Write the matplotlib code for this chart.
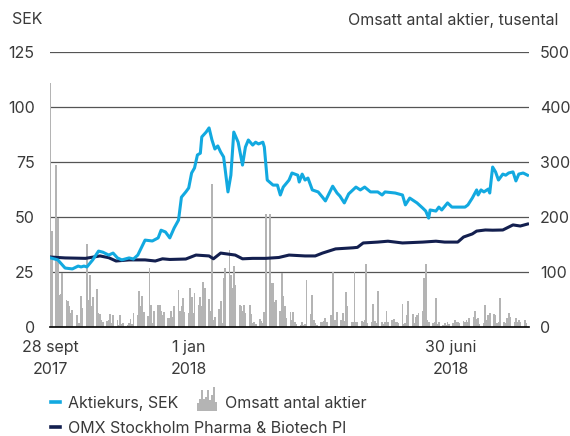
import matplotlib
matplotlib.use("Agg")
import matplotlib.pyplot as plt
import numpy as np
import pandas as pd
from matplotlib.lines import Line2D
from matplotlib.patches import Rectangle
from matplotlib.legend_handler import HandlerBase

plt.rcParams['font.family'] = ['Inter', 'DejaVu Sans']

# ---- data ----
start = pd.Timestamp("2017-09-28")

# share price, SEK  (days after 28 sept 2017)
price_day = [0, 5, 10, 15, 19, 21, 23, 25, 29, 33, 36, 40, 43, 46, 49, 54, 57, 60,
             65, 70, 74, 76, 79, 82, 85, 88, 90, 93, 95, 97, 99, 101, 103, 104, 107,
             109, 111, 113, 115, 117, 119, 122, 124, 126, 129, 132, 134, 136, 139,
             141, 143, 146, 147, 149, 153, 156, 158, 160, 164, 166, 170, 171, 173,
             175, 177, 180, 184, 187, 189, 194, 197, 199, 202, 205, 210, 213, 216,
             220, 225, 228, 230, 237, 242, 244, 247, 252, 256, 258, 260, 261, 265,
             267, 269, 273, 276, 280, 285, 287, 290, 293, 294, 296, 298, 301, 302,
             304, 306, 308, 311, 313, 315, 318, 320, 322, 325, 328]
price_sek = [31.4, 30.5, 26.8, 26.4, 27.7, 27.3, 27.7, 27.3, 30.5, 34.5, 34.0, 32.7,
             33.6, 31.4, 30.5, 31.4, 30.9, 32.7, 39.5, 39.1, 40.5, 44.0, 43.2, 40.5,
             45.0, 48.6, 59.0, 61.4, 63.2, 70.0, 72.3, 78.2, 79.0, 86.4, 88.6, 90.5,
             85.0, 80.9, 82.3, 79.5, 77.3, 61.4, 69.0, 88.6, 84.0, 73.6, 81.8, 85.0,
             82.7, 84.0, 83.2, 84.0, 81.8, 66.8, 64.5, 64.5, 60.0, 63.6, 66.8, 70.0,
             69.0, 65.9, 69.5, 66.8, 67.7, 62.3, 61.4, 59.0, 57.3, 64.0, 60.9, 59.5,
             56.4, 60.5, 63.6, 62.3, 63.6, 61.4, 61.4, 60.0, 61.4, 60.9, 60.0, 55.5,
             58.6, 56.4, 54.0, 52.7, 49.5, 53.2, 52.7, 54.5, 53.2, 56.4, 54.5, 54.5,
             54.5, 55.5, 58.6, 62.3, 60.0, 62.3, 61.4, 62.7, 60.9, 72.7, 70.5, 66.8,
             69.5, 69.0, 70.0, 70.5, 66.4, 69.5, 70.0, 69.0]

# OMX Stockholm Pharma & Biotech PI (rebased, SEK scale)
index_day = [0, 10, 24, 34, 40, 45, 54, 65, 72, 77, 82, 93, 100, 109, 112, 117, 127,
             132, 139, 148, 157, 164, 175, 182, 187, 196, 208, 211, 215, 225, 232, 242,
             256, 265, 271, 280, 284, 290, 293, 299, 304, 311, 318, 323, 328]
index_val = [31.8, 31.4, 31.2, 32.3, 31.5, 30.0, 30.5, 30.5, 30.0, 31.0, 30.7, 30.9,
             32.7, 32.3, 31.0, 33.6, 32.7, 31.0, 31.2, 31.2, 31.6, 32.7, 32.3, 32.3,
             33.6, 35.5, 36.0, 36.2, 38.2, 38.6, 39.0, 38.2, 38.6, 39.0, 38.6, 38.6,
             40.9, 42.3, 43.6, 44.1, 44.0, 44.1, 46.4, 45.9, 46.8]

# traded shares per day, thousands
volume = [444, 175, 295, 198, 58, 60, 98, 49, 47, 38, 25, 31, 22, 7, 7, 56, 35, 151,
          49, 95, 38, 55, 69, 25, 24, 12, 10, 11, 13, 24, 7, 22, 13, 3, 22, 5, 7, 4, 7,
          15, 5, 25, 22, 65, 38, 56, 27, 20, 107, 40, 7, 29, 40, 40, 30, 22, 27, 16, 16,
          29, 18, 38, 67, 29, 38, 53, 27, 25, 71, 55, 25, 62, 40, 55, 38, 82, 71, 51, 30,
          260, 13, 18, 33, 47, 7, 89, 107, 140, 95, 71, 111, 76, 40, 38, 29, 40, 25, 40,
          24, 7, 10, 5, 15, 11, 7, 27, 205, 205, 80, 80, 45, 49, 29, 98, 56, 38, 16, 27,
          13, 27, 10, 5, 4, 10, 3, 5, 85, 24, 58, 13, 7, 3, 10, 10, 11, 16, 10, 22,
          100, 13, 13, 27, 13, 25, 11, 64, 38, 10, 9, 100, 10, 9, 11, 9, 13, 115, 7, 9,
          42, 11, 7, 65, 9, 5, 9, 29, 9, 13, 15, 9, 10, 7, 42, 5, 7,
          22, 47, 24, 7, 18, 22, 25, 29, 89, 115, 13, 10, 7, 10, 53, 5, 10, 3, 7, 4, 9,
          5, 7, 13, 9, 10, 7, 11, 10, 13, 9, 16, 18, 29, 15, 16, 5, 7, 40, 13, 22, 25,
          24, 22, 7, 10, 53, 10, 7, 16, 25, 18, 10, 16, 9, 13, 10, 13, 7]

tick_dates = ["2017-09-28", "2018-01-01", "2018-06-30"]
tick_labels = ["28 sept\n2017", "1 jan\n2018", "30 juni\n2018"]

sek_ticks = [0, 25, 50, 75, 100, 125]
vol_ticks = [0, 100, 200, 300, 400, 500]

BLUE = "#12a9e0"
NAVY = "#131f4f"
BARGREY = "#b4b4b4"
TXT = "#3a3a3a"
FS = 11.5

price_dates = start + pd.to_timedelta(price_day, unit="D")
index_dates = start + pd.to_timedelta(index_day, unit="D")
vol_dates = pd.bdate_range(start, periods=len(volume))


class HistHandler(HandlerBase):
    # small histogram icon for the volume legend entry
    def create_artists(self, legend, orig_handle, xdescent, ydescent,
                       width, height, fontsize, trans):
        hs = [0.35, 0.55, 0.95, 0.55, 0.6, 0.95, 0.5, 0.7, 1.05, 0.4]
        n = len(hs)
        w = width / n
        base = -ydescent - 0.3 * height
        arts = []
        for i, h in enumerate(hs):
            r = Rectangle((-xdescent + i * w, base), w * 0.9, h * height * 2.0,
                          facecolor=BARGREY, edgecolor="none", transform=trans)
            arts.append(r)
        return arts


fig = plt.figure(figsize=(5.7, 4.36), dpi=100)
ax = fig.add_axes([50 / 570, 1 - 327 / 436, 479 / 570, 275 / 436])
ax2 = ax.twinx()

# volume bars + grid on the right axis (behind)
ax2.bar(vol_dates, volume, width=1.25, color=BARGREY, linewidth=0)
ax2.set_ylim(0, 500)
ax2.set_yticks(vol_ticks)
ax2.set_axisbelow(True)
ax2.grid(axis="y", color="#555555", linewidth=0.9)

# lines on the left axis (in front)
ax.set_zorder(ax2.get_zorder() + 1)
ax.patch.set_visible(False)
ax.plot(index_dates, index_val, color=NAVY, linewidth=2.2, solid_joinstyle="round")
ax.plot(price_dates, price_sek, color=BLUE, linewidth=2.2, solid_joinstyle="round")
ax.set_ylim(0, 125)
ax.set_yticks(sek_ticks)

ax.set_xlim(pd.Timestamp("2017-09-27 15:00"), pd.Timestamp("2018-08-23"))
ax.set_xticks(pd.to_datetime(tick_dates))
ax.set_xticklabels(tick_labels, linespacing=1.6)

for a in (ax, ax2):
    for s in a.spines.values():
        s.set_visible(False)
ax.spines["bottom"].set_visible(True)
ax.spines["bottom"].set_color("black")
ax.spines["bottom"].set_linewidth(1.2)

ax.tick_params(axis="y", length=0, pad=11, labelsize=FS, labelcolor=TXT)
ax2.tick_params(axis="y", length=0, pad=8, labelsize=FS, labelcolor=TXT)
ax.tick_params(axis="x", length=0, pad=9, labelsize=FS, labelcolor=TXT)
ax2.tick_params(axis="x", length=0)

fig.text(12 / 570, 1 - 20 / 436, "SEK", fontsize=FS, color=TXT, va="center", ha="left")
fig.text(558 / 570, 1 - 20 / 436, "Omsatt antal aktier, tusental", fontsize=FS,
         color=TXT, va="center", ha="right")

# legend, three separate entries to match the layout
leg_kw = dict(frameon=False, fontsize=FS, borderpad=0, borderaxespad=0,
              handletextpad=0.5, labelcolor=TXT)
h_price = Line2D([], [], color=BLUE, linewidth=2.6)
h_index = Line2D([], [], color=NAVY, linewidth=2.6)
h_vol = Rectangle((0, 0), 1, 1, color=BARGREY)

l1 = fig.legend([h_price], ["Aktiekurs, SEK"], loc="center left",
                bbox_to_anchor=(51 / 570, 1 - 403 / 436), handlelength=0.55, **leg_kw)
l2 = fig.legend([h_vol], ["Omsatt antal aktier"], loc="center left",
                bbox_to_anchor=(197 / 570, 1 - 403 / 436), handlelength=1.25,
                handler_map={Rectangle: HistHandler()}, **leg_kw)
l3 = fig.legend([h_index], ["OMX Stockholm Pharma & Biotech PI"], loc="center left",
                bbox_to_anchor=(51 / 570, 1 - 428 / 436), handlelength=0.55, **leg_kw)

fig.savefig("out.png", dpi=100)
